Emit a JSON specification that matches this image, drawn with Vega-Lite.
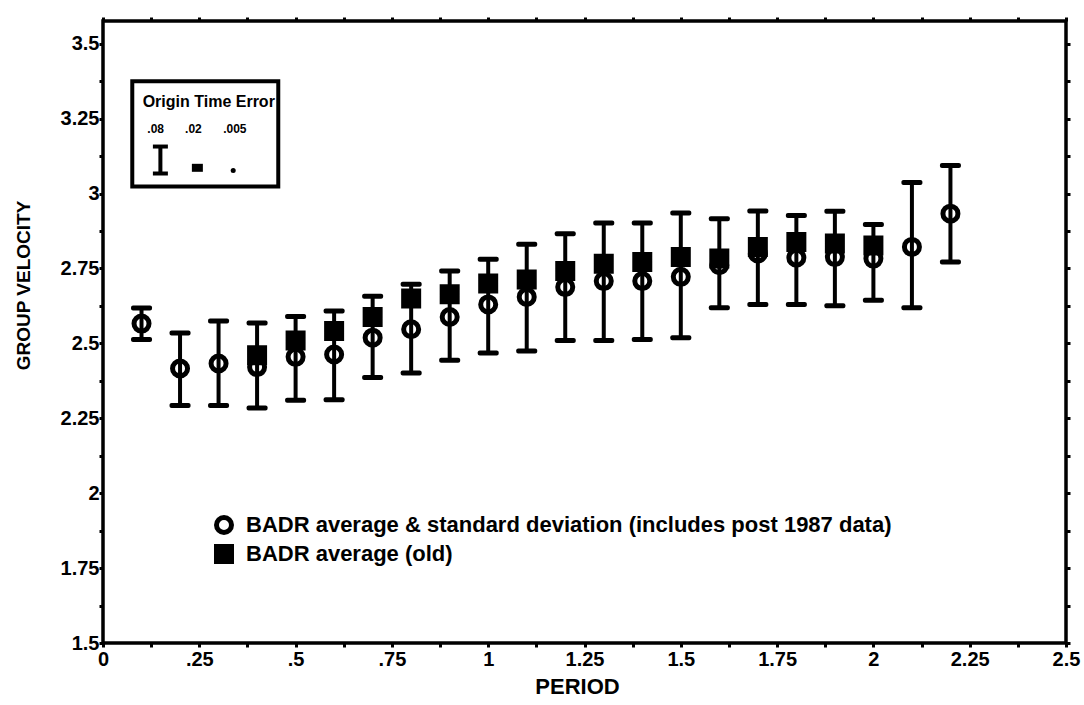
{
  "$schema": "https://vega.github.io/schema/vega-lite/v6.json",
  "width": 963,
  "height": 622,
  "autosize": {"type": "none"},
  "padding": {"left": 103, "top": 21, "right": 18, "bottom": 62},
  "background": "white",
  "config": {
    "view": {"stroke": "black", "strokeWidth": 3.5},
    "font": "Liberation Sans",
    "axis": {
      "domain": false, "grid": false,
      "tickColor": "black", "tickWidth": 3, "tickSize": 4,
      "labelFont": "Liberation Sans", "labelFontWeight": "bold", "labelFontSize": 20, "labelColor": "black",
      "titleFont": "Liberation Sans", "titleFontWeight": "bold", "titleFontSize": 20, "titleColor": "black",
      "labelOverlap": false, "labelFlush": false
    }
  },
  "datasets": {
    "badr": [
      {"period": 0.1, "avg": 2.566, "lo": 2.513, "hi": 2.618, "old": null},
      {"period": 0.2, "avg": 2.416, "lo": 2.293, "hi": 2.535, "old": null},
      {"period": 0.3, "avg": 2.433, "lo": 2.293, "hi": 2.575, "old": null},
      {"period": 0.4, "avg": 2.421, "lo": 2.284, "hi": 2.568, "old": 2.46},
      {"period": 0.5, "avg": 2.455, "lo": 2.31, "hi": 2.59, "old": 2.51},
      {"period": 0.6, "avg": 2.463, "lo": 2.312, "hi": 2.608, "old": 2.541},
      {"period": 0.7, "avg": 2.519, "lo": 2.386, "hi": 2.657, "old": 2.588},
      {"period": 0.8, "avg": 2.547, "lo": 2.401, "hi": 2.697, "old": 2.65},
      {"period": 0.9, "avg": 2.588, "lo": 2.444, "hi": 2.742, "old": 2.664},
      {"period": 1.0, "avg": 2.63, "lo": 2.468, "hi": 2.781, "old": 2.7},
      {"period": 1.1, "avg": 2.655, "lo": 2.475, "hi": 2.831, "old": 2.713},
      {"period": 1.2, "avg": 2.688, "lo": 2.51, "hi": 2.866, "old": 2.742},
      {"period": 1.3, "avg": 2.708, "lo": 2.51, "hi": 2.902, "old": 2.766},
      {"period": 1.4, "avg": 2.708, "lo": 2.513, "hi": 2.902, "old": 2.772},
      {"period": 1.5, "avg": 2.722, "lo": 2.519, "hi": 2.935, "old": 2.788},
      {"period": 1.6, "avg": 2.761, "lo": 2.619, "hi": 2.916, "old": 2.783},
      {"period": 1.7, "avg": 2.8, "lo": 2.63, "hi": 2.942, "old": 2.822},
      {"period": 1.8, "avg": 2.786, "lo": 2.63, "hi": 2.927, "old": 2.838},
      {"period": 1.9, "avg": 2.788, "lo": 2.626, "hi": 2.941, "old": 2.833},
      {"period": 2.0, "avg": 2.783, "lo": 2.644, "hi": 2.897, "old": 2.827},
      {"period": 2.1, "avg": 2.822, "lo": 2.619, "hi": 3.037, "old": null},
      {"period": 2.2, "avg": 2.933, "lo": 2.772, "hi": 3.094, "old": null}
    ]
  },
  "data": {"name": "badr"},
  "resolve": {"axis": {"x": "independent", "y": "independent"}},
  "layer": [
    {
      "mark": {"type": "rule", "strokeWidth": 4, "color": "black"},
      "encoding": {
        "x": {
          "field": "period", "type": "quantitative",
          "scale": {"domain": [0, 2.5], "nice": false, "zero": false},
          "axis": {
            "orient": "bottom",
            "values": [0, 0.125, 0.25, 0.375, 0.5, 0.625, 0.75, 0.875, 1, 1.125, 1.25, 1.375, 1.5, 1.625, 1.75, 1.875, 2, 2.125, 2.25, 2.375, 2.5],
            "labelExpr": "(datum.value * 4) % 1 == 0 ? ((datum.value > 0 && datum.value < 1) ? substring(format(datum.value, '~g'), 1) : format(datum.value, '~g')) : ''",
            "labelPadding": 2, "labelBaseline": "top",
            "title": "PERIOD", "titleFontSize": 22, "titleX": 474, "titleY": 50, "titleAlign": "center", "titleBaseline": "alphabetic"
          }
        },
        "y": {
          "field": "lo", "type": "quantitative",
          "scale": {"domain": [1.5, 3.576], "nice": false, "zero": false},
          "axis": {
            "orient": "left",
            "values": [1.5, 1.625, 1.75, 1.875, 2, 2.125, 2.25, 2.375, 2.5, 2.625, 2.75, 2.875, 3, 3.125, 3.25, 3.375, 3.5],
            "labelExpr": "(datum.value * 4) % 1 == 0 ? format(datum.value, '~g') : ''",
            "labelPadding": 0,
            "title": "GROUP VELOCITY", "titleFontSize": 19, "titleX": -80, "titleY": 264, "titleAngle": -90, "titleAlign": "center", "titleBaseline": "middle"
          }
        },
        "y2": {"field": "hi"}
      }
    },
    {
      "mark": {"type": "tick", "orient": "horizontal", "size": 21, "thickness": 5, "color": "black", "cornerRadius": 2, "opacity": 1},
      "encoding": {
        "x": {
          "field": "period", "type": "quantitative",
          "axis": {"orient": "top", "values": [0, 0.125, 0.25, 0.375, 0.5, 0.625, 0.75, 0.875, 1, 1.125, 1.25, 1.375, 1.5, 1.625, 1.75, 1.875, 2, 2.125, 2.25, 2.375, 2.5], "labels": false, "title": null}
        },
        "y": {
          "field": "lo", "type": "quantitative",
          "axis": {"orient": "right", "values": [1.5, 1.625, 1.75, 1.875, 2, 2.125, 2.25, 2.375, 2.5, 2.625, 2.75, 2.875, 3, 3.125, 3.25, 3.375, 3.5], "labels": false, "title": null}
        }
      }
    },
    {
      "mark": {"type": "tick", "orient": "horizontal", "size": 21, "thickness": 5, "color": "black", "cornerRadius": 2, "opacity": 1},
      "encoding": {
        "x": {"field": "period", "type": "quantitative", "axis": null},
        "y": {"field": "hi", "type": "quantitative", "axis": null}
      }
    },
    {
      "transform": [
        {"fold": ["avg", "old"], "as": ["series", "velocity"]},
        {"filter": "datum.velocity != null"}
      ],
      "mark": {"type": "point", "size": 225, "strokeWidth": 5, "color": "black", "filled": false, "opacity": 1},
      "encoding": {
        "x": {"field": "period", "type": "quantitative", "axis": null},
        "y": {"field": "velocity", "type": "quantitative", "axis": null},
        "shape": {
          "field": "series", "type": "nominal",
          "scale": {"domain": ["avg", "old"], "range": ["circle", "M-1,-1H1V1H-1Z M-0.55,-0.55H0.55V0.55H-0.55Z M-0.15,-0.15H0.15V0.15H-0.15Z"]},
          "legend": {
            "orient": "none", "legendX": 110, "legendY": 493, "title": null, "padding": 0,
            "labelExpr": "datum.label == 'avg' ? 'BADR average & standard deviation (includes post 1987 data)' : 'BADR average (old)'",
            "labelFont": "Liberation Sans", "labelFontWeight": "bold", "labelFontSize": 22, "labelColor": "black", "labelLimit": 1000,
            "labelOffset": 11, "rowPadding": -8, "symbolSize": 225, "symbolStrokeWidth": 5
          }
        }
      }
    },
    {
      "data": {"values": [{}]},
      "mark": {"type": "rect", "fill": "white", "stroke": "black", "strokeWidth": 4},
      "encoding": {
        "x": {"datum": 0.076, "type": "quantitative", "axis": null},
        "x2": {"datum": 0.455},
        "y": {"datum": 3.375, "type": "quantitative", "axis": null},
        "y2": {"datum": 3.024}
      }
    },
    {
      "data": {"values": [{}]},
      "mark": {"type": "text", "text": "Origin Time Error", "align": "left", "baseline": "alphabetic", "font": "Liberation Sans", "fontWeight": "bold", "fontSize": 16, "color": "black"},
      "encoding": {
        "x": {"datum": 0.103, "type": "quantitative", "axis": null},
        "y": {"datum": 3.288, "type": "quantitative", "axis": null}
      }
    },
    {
      "data": {"values": [{}]},
      "mark": {"type": "text", "text": ".08", "align": "left", "baseline": "alphabetic", "font": "Liberation Sans", "fontWeight": "bold", "fontSize": 12, "color": "black"},
      "encoding": {
        "x": {"datum": 0.115, "type": "quantitative", "axis": null},
        "y": {"datum": 3.201, "type": "quantitative", "axis": null}
      }
    },
    {
      "data": {"values": [{}]},
      "mark": {"type": "text", "text": ".02", "align": "left", "baseline": "alphabetic", "font": "Liberation Sans", "fontWeight": "bold", "fontSize": 12, "color": "black"},
      "encoding": {
        "x": {"datum": 0.213, "type": "quantitative", "axis": null},
        "y": {"datum": 3.201, "type": "quantitative", "axis": null}
      }
    },
    {
      "data": {"values": [{}]},
      "mark": {"type": "text", "text": ".005", "align": "left", "baseline": "alphabetic", "font": "Liberation Sans", "fontWeight": "bold", "fontSize": 12, "color": "black"},
      "encoding": {
        "x": {"datum": 0.312, "type": "quantitative", "axis": null},
        "y": {"datum": 3.201, "type": "quantitative", "axis": null}
      }
    },
    {
      "data": {"values": [{}]},
      "mark": {"type": "rule", "strokeWidth": 4, "color": "black"},
      "encoding": {
        "x": {"datum": 0.149, "type": "quantitative", "axis": null},
        "y": {"datum": 3.157, "type": "quantitative", "axis": null},
        "y2": {"datum": 3.067}
      }
    },
    {
      "data": {"values": [{}]},
      "mark": {"type": "tick", "orient": "horizontal", "size": 15, "thickness": 4, "color": "black", "opacity": 1},
      "encoding": {
        "x": {"datum": 0.149, "type": "quantitative", "axis": null},
        "y": {"datum": 3.157, "type": "quantitative", "axis": null}
      }
    },
    {
      "data": {"values": [{}]},
      "mark": {"type": "tick", "orient": "horizontal", "size": 15, "thickness": 4, "color": "black", "opacity": 1},
      "encoding": {
        "x": {"datum": 0.149, "type": "quantitative", "axis": null},
        "y": {"datum": 3.067, "type": "quantitative", "axis": null}
      }
    },
    {
      "data": {"values": [{}]},
      "mark": {"type": "tick", "orient": "horizontal", "size": 11, "thickness": 8, "color": "black", "opacity": 1},
      "encoding": {
        "x": {"datum": 0.245, "type": "quantitative", "axis": null},
        "y": {"datum": 3.086, "type": "quantitative", "axis": null}
      }
    },
    {
      "data": {"values": [{}]},
      "mark": {"type": "point", "shape": "circle", "filled": true, "size": 25, "color": "black", "opacity": 1},
      "encoding": {
        "x": {"datum": 0.338, "type": "quantitative", "axis": null},
        "y": {"datum": 3.077, "type": "quantitative", "axis": null}
      }
    }
  ]
}
